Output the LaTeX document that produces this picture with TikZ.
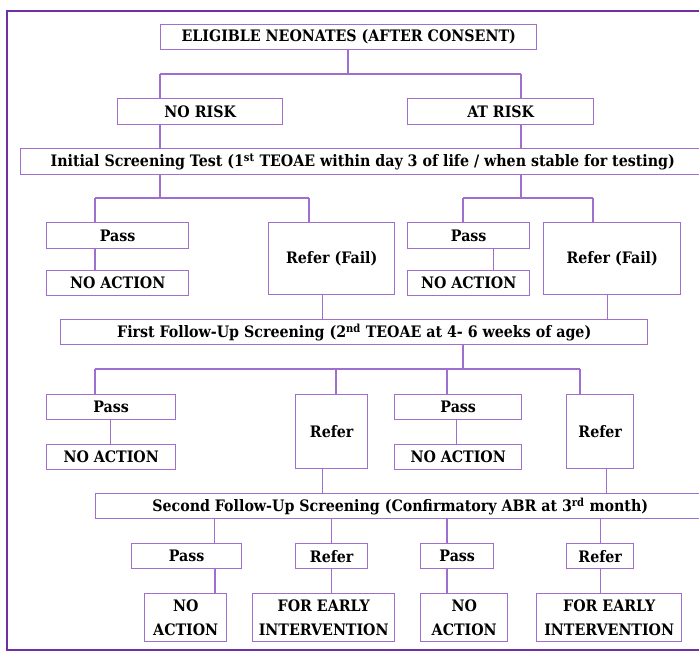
\documentclass[tikz,border=0pt]{standalone}
\usepackage{fontspec}
\setmainfont{DejaVu Serif Condensed}[BoldFont={DejaVu Serif Condensed Bold}]
\usetikzlibrary{positioning}
\definecolor{framepurple}{HTML}{7030A0}
\definecolor{boxpurple}{HTML}{9E6FCE}
\tikzset{box/.style={draw=boxpurple, line width=1.4pt, fill=white, inner sep=0pt,
           anchor=north west, align=center,
           font=\bfseries\fontsize{15.8}{24}\selectfont},
         link/.style={draw=boxpurple, line width=1.4pt}}

\begin{document}
\begin{tikzpicture}[x=1pt, y=-1pt]

           \path[use as bounding box, clip] (0,0) rectangle (699,652);
           \draw[framepurple, line width=2.6pt] (705,11) -- (7,11) -- (7,650) -- (705,650);

           % top levels
           \node (eligible) [box, minimum width=376pt, minimum height=25pt] at (160,24) {ELIGIBLE NEONATES (AFTER CONSENT)};
           \node (norisk) [box, minimum width=165pt, minimum height=26pt] at (117,98) {NO RISK};
           \node (atrisk) [box, minimum width=186pt, minimum height=26pt] at (407,98) {AT RISK};
           \node (initial) [box, minimum width=684pt, minimum height=26pt] at (20,148) {Initial Screening Test (1\textsuperscript{st} TEOAE within day 3 of life / when stable for testing)};

           % first screening results
           \node (passA) [box, minimum width=142pt, minimum height=26pt] at (46,222) {Pass};
           \node (noactA) [box, minimum width=142pt, minimum height=25pt] at (46,270) {NO ACTION};
           \node (referA) [box, minimum width=126pt, minimum height=72pt] at (268,222) {Refer (Fail)};
           \node (passB) [box, minimum width=122pt, minimum height=26pt] at (407,222) {Pass};
           \node (noactB) [box, minimum width=122pt, minimum height=25pt] at (407,270) {NO ACTION};
           \node (referB) [box, minimum width=137pt, minimum height=72pt] at (543,222) {Refer (Fail)};
           \node (first) [box, minimum width=587pt, minimum height=25pt] at (60,319) {First Follow-Up Screening (2\textsuperscript{nd} TEOAE at 4- 6 weeks of age)};

           % second screening results
           \node (passC) [box, minimum width=129pt, minimum height=25pt] at (46,394) {Pass};
           \node (noactC) [box, minimum width=129pt, minimum height=25pt] at (46,444) {NO ACTION};
           \node (referC) [box, minimum width=72pt, minimum height=74pt] at (295,394) {Refer};
           \node (passD) [box, minimum width=127pt, minimum height=25pt] at (394,394) {Pass};
           \node (noactD) [box, minimum width=127pt, minimum height=25pt] at (394,444) {NO ACTION};
           \node (referD) [box, minimum width=67pt, minimum height=74pt] at (566,394) {Refer};
           \node (second) [box, minimum width=609pt, minimum height=25pt] at (95,493) {Second Follow-Up Screening (Confirmatory ABR at 3\textsuperscript{rd} month)};

           % confirmatory results
           \node (passE) [box, minimum width=110pt, minimum height=25pt] at (131,543) {Pass};
           \node (referE) [box, minimum width=72pt, minimum height=25pt] at (295,543) {Refer};
           \node (passF) [box, minimum width=73pt, minimum height=25pt] at (420,543) {Pass};
           \node (referF) [box, minimum width=67pt, minimum height=25pt] at (566,543) {Refer};
           \node (noactE) [box, minimum width=82pt, minimum height=48pt] at (144,593) {NO\\ACTION};
           \node (earlyE) [box, minimum width=142pt, minimum height=48pt] at (252,593) {FOR EARLY\\INTERVENTION};
           \node (noactF) [box, minimum width=87pt, minimum height=48pt] at (420,593) {NO\\ACTION};
           \node (earlyF) [box, minimum width=145pt, minimum height=48pt] at (536,593) {FOR EARLY\\INTERVENTION};

           % junctions
           \coordinate (j0) at (348,74);
           \coordinate (j1) at (160,74);
           \coordinate (j2) at (521,74);
           \coordinate (k1) at (160,198);
           \coordinate (k2) at (521,198);
           \coordinate (kA) at (95,198);
           \coordinate (kR) at (309,198);
           \coordinate (kB) at (463,198);
           \coordinate (kS) at (593,198);
           \coordinate (m0) at (463,369);
           \coordinate (mA) at (95,369);
           \coordinate (mR) at (336,369);
           \coordinate (mB) at (447,369);
           \coordinate (mS) at (580,369);

           \draw[link] (eligible.south -| j0) -- (j0);
           \draw[link] (j1) -- (j2);
           \draw[link] (j1) -- (norisk.north -| j1);
           \draw[link] (j2) -- (atrisk.north -| j2);
           \draw[link] (norisk.south -| j1) -- (initial.north -| j1);
           \draw[link] (atrisk.south -| j2) -- (initial.north -| j2);

           \draw[link] (initial.south -| k1) -- (k1);
           \draw[link] (initial.south -| k2) -- (k2);
           \draw[link] (kA) -- (kR);
           \draw[link] (kB) -- (kS);
           \draw[link] (kA) -- (passA.north -| kA);
           \draw[link] (kR) -- (referA.north -| kR);
           \draw[link] (kB) -- (passB.north -| kB);
           \draw[link] (kS) -- (referB.north -| kS);
           \draw[link] (passA.south -| kA) -- (noactA.north -| kA);
           \draw[link] ([xshift=25pt]passB.south) -- ([xshift=25pt]noactB.north);
           \draw[link] ([xshift=-9pt]referA.south) -- ([xshift=-9pt]first.north -| referA.south);
           \draw[link] ([xshift=-5pt]referB.south) -- ([xshift=-5pt]first.north -| referB.south);

           \draw[link] (first.south -| m0) -- (m0);
           \draw[link] (mA) -- (mS);
           \draw[link] (mA) -- (passC.north -| mA);
           \draw[link] (mR) -- (referC.north -| mR);
           \draw[link] (mB) -- (passD.north -| mB);
           \draw[link] (mS) -- (referD.north -| mS);
           \draw[link] ([xshift=-1pt]passC.south) -- ([xshift=-1pt]noactC.north);
           \draw[link] ([xshift=-2pt]passD.south) -- ([xshift=-2pt]noactD.north);
           \draw[link] ([xshift=-9pt]referC.south) -- ([xshift=-9pt]second.north -| referC.south);
           \draw[link] ([xshift=6pt]referD.south) -- ([xshift=6pt]second.north -| referD.south);

           \draw[link] (second.south -| noactE.north) ++(29pt,0) -- ++(0,-25pt);
           \draw[link] (second.south -| referE.north) -- (referE.north);
           \draw[link] (second.south -| mB) -- (passF.north -| mB);
           \draw[link] (second.south -| referF.north) -- (referF.north);
           \draw[link] (passE.south -| j1) ++(55pt,0) -- ++(0,-25pt);
           \draw[link] (referE.south) -- (earlyE.north -| referE.south);
           \draw[link] (passF.south -| mB) -- (noactF.north -| mB);
           \draw[link] (referF.south) -- (earlyF.north -| referF.south);

         \end{tikzpicture}
\end{document}
